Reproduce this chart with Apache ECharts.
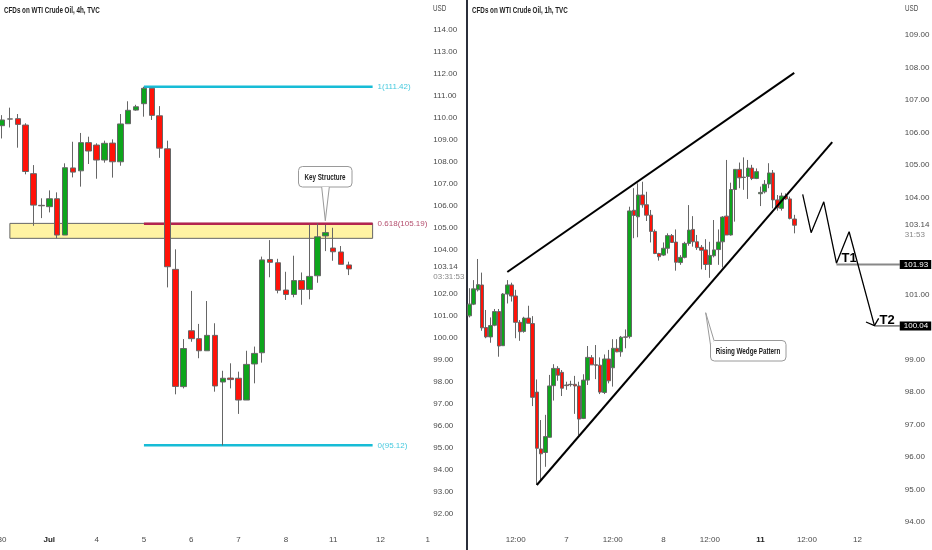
<!DOCTYPE html>
<html>
<head>
<meta charset="utf-8">
<title>CFDs on WTI Crude Oil</title>
<style>
html, body { margin: 0; padding: 0; background: #fff; }
#chart { width: 932px; height: 550px; }
</style>
<script src="https://cdn.jsdelivr.net/npm/echarts@6/dist/echarts.min.js"></script>
</head>
<body>
<div id="chart"></div>
<script>
// 4h panel, one value per candle
const leftOpen = [109.65, 109.96, 109.97, 109.68, 107.47, 106.03, 105.97, 106.33, 104.68, 107.73, 107.60, 108.88, 108.77, 108.09, 108.86, 108.01, 109.74, 110.36, 110.65, 111.35, 110.10, 108.60, 103.12, 97.79, 100.33, 99.97, 99.42, 100.12, 98.00, 98.18, 98.17, 97.18, 98.82, 99.33, 103.57, 103.42, 102.18, 101.98, 102.61, 102.21, 102.83, 104.64, 104.09, 103.91, 103.32];
const leftClose = [109.91, 109.95, 109.71, 107.57, 106.04, 106.01, 106.33, 104.68, 107.74, 107.54, 108.88, 108.50, 108.09, 108.85, 108.01, 109.73, 110.35, 110.51, 111.35, 110.12, 108.63, 103.24, 97.80, 99.52, 99.97, 99.42, 100.12, 97.82, 98.17, 98.11, 97.18, 98.80, 99.30, 103.55, 103.44, 102.17, 101.98, 102.61, 102.21, 102.80, 104.60, 104.79, 103.92, 103.35, 103.14];
const leftLow = [109.07, 109.57, 108.65, 107.44, 105.10, 105.45, 105.71, 104.53, 104.68, 107.30, 106.88, 107.91, 107.24, 107.97, 107.29, 107.83, 109.73, 110.33, 110.06, 109.91, 108.19, 102.30, 97.44, 97.71, 99.83, 99.08, 99.42, 97.56, 95.12, 97.71, 96.55, 97.18, 97.94, 98.88, 102.76, 102.03, 101.73, 101.85, 101.51, 101.76, 102.51, 103.95, 103.51, 103.35, 102.86];
const leftHigh = [110.13, 110.47, 110.18, 109.76, 107.86, 106.35, 106.71, 106.62, 107.94, 108.92, 109.32, 109.15, 108.85, 108.97, 109.03, 110.18, 110.76, 110.60, 111.42, 111.35, 110.54, 108.97, 104.03, 99.95, 102.14, 100.64, 101.68, 100.67, 98.51, 98.85, 98.47, 99.42, 99.61, 103.70, 104.45, 103.60, 103.01, 103.74, 102.98, 105.14, 105.21, 105.14, 105.01, 104.18, 103.47];
const leftDays = ['30', 'Jul', '4', '5', '6', '7', '8', '11', '12', '1'];
const leftCandleSlots = 55;

// 1h panel, one value per candle
const rightOpen = [100.35, 100.71, 101.15, 101.30, 99.99, 99.70, 100.06, 100.48, 99.43, 101.02, 101.30, 100.96, 100.15, 99.87, 100.28, 100.11, 98.00, 96.25, 96.14, 96.61, 98.20, 98.73, 98.61, 98.22, 98.24, 98.24, 98.19, 97.19, 98.37, 99.06, 98.84, 98.83, 97.99, 99.02, 98.75, 99.35, 99.24, 99.70, 99.71, 103.60, 103.40, 104.07, 103.77, 103.45, 102.95, 102.27, 102.22, 102.43, 102.82, 102.62, 101.99, 102.15, 102.58, 103.01, 102.63, 102.46, 102.38, 101.93, 102.20, 102.39, 102.63, 103.42, 102.84, 104.24, 104.86, 104.62, 104.64, 104.90, 104.58, 104.11, 104.17, 104.41, 104.75, 103.92, 103.66, 104.04, 103.95, 103.33];
const rightClose = [100.71, 101.18, 101.31, 99.98, 99.70, 100.05, 100.48, 99.42, 101.02, 101.30, 100.96, 100.15, 99.86, 100.28, 100.12, 97.84, 96.27, 96.10, 96.63, 98.19, 98.73, 98.52, 98.12, 98.20, 98.23, 98.19, 97.17, 98.37, 99.07, 98.84, 98.83, 98.00, 99.02, 98.35, 99.35, 99.24, 99.69, 99.69, 103.58, 103.44, 104.07, 103.77, 103.45, 102.95, 102.27, 102.17, 102.43, 102.82, 102.61, 102.00, 102.15, 102.58, 102.99, 102.63, 102.45, 102.37, 101.93, 102.21, 102.38, 102.62, 103.39, 102.84, 104.24, 104.86, 104.60, 104.61, 104.90, 104.58, 104.79, 104.15, 104.40, 104.75, 103.92, 103.68, 104.04, 103.95, 103.35, 103.14];
const rightLow = [100.30, 100.68, 101.10, 99.89, 99.66, 99.52, 100.03, 99.09, 99.42, 100.73, 100.79, 99.66, 99.58, 99.83, 100.12, 97.57, 95.14, 95.29, 95.70, 96.60, 97.74, 98.35, 97.88, 98.07, 98.17, 97.33, 96.68, 97.17, 98.22, 98.84, 98.40, 97.94, 97.94, 98.27, 98.17, 99.23, 99.09, 99.35, 99.65, 102.74, 102.77, 103.68, 103.27, 102.61, 102.25, 102.05, 102.19, 102.27, 102.60, 101.74, 101.92, 102.12, 102.51, 102.48, 102.38, 101.78, 101.76, 101.52, 102.15, 101.92, 101.84, 102.84, 102.82, 103.25, 104.28, 104.23, 103.95, 104.53, 104.56, 103.73, 104.12, 104.28, 103.66, 103.59, 103.59, 103.92, 103.32, 102.89];
const rightHigh = [101.20, 101.45, 102.10, 101.68, 100.53, 100.30, 100.56, 100.56, 101.05, 101.45, 101.37, 101.15, 100.22, 100.32, 100.66, 100.34, 98.39, 97.14, 97.30, 98.53, 98.86, 98.80, 98.68, 98.32, 98.35, 98.50, 98.32, 98.55, 99.42, 99.14, 99.45, 99.07, 99.16, 99.30, 99.63, 99.63, 99.73, 99.93, 103.71, 104.28, 104.43, 104.48, 104.17, 103.61, 103.01, 102.29, 102.61, 102.89, 102.87, 103.01, 102.22, 102.63, 103.76, 103.42, 102.84, 102.53, 102.71, 102.63, 103.30, 103.01, 103.42, 105.15, 104.45, 104.86, 105.07, 105.23, 105.15, 105.00, 104.89, 104.33, 104.53, 105.05, 104.84, 104.07, 104.14, 104.12, 104.02, 103.46];
const rightTickIndex = [11, 23, 34, 46, 57, 69, 80, 92];
const rightTickText = ['12:00', '7', '12:00', '8', '12:00', '11', '12:00', '12'];
const rightCandleSlots = 103;

// fib levels on the 4h panel
const fibLevels = [111.42, 105.19, 95.12];
const fibNames = ['1(111.42)', '0.618(105.19)', '0(95.12)'];
const fibColors = ['#17bcd6', '#b3244f', '#17bcd6'];
const fibTextColors = ['#45c9de', '#b5506f', '#45c9de'];

// drawings on the 1h panel: [candle index, price]
const wedgeUpper = [[9, 101.70], [77, 107.83]];
const wedgeLower = [[16, 95.14], [86, 105.70]];
const projection = [[79, 104.09], [81, 102.91], [84, 103.86], [87, 101.97], [90, 102.94], [96, 100.05]];
const arrowHead = [[94, 100.16], [96, 100.05], [97, 100.27]];
const targetStart = [87, 96];
const targetPrices = [101.93, 100.04];
const targetNames = ['T1', 'T2'];
const targetNamePoints = [[90, 102.12], [99, 100.22]];

const FONT = '"Liberation Sans", sans-serif';
const LABEL_SIZE = 8;
const GREEN = '#0da51c';
const RED = '#ff1208';
const TEXT = '#4a4a4a';

function toCandles(open, close, low, high) {
    return open.map(function (o, i) { return [o, close[i], low[i], high[i]]; });
}

function slots(n) {
    return Array.from({ length: n }, function (_, i) { return String(i); });
}

function priceLabel(hidden, lastPrice, countdown) {
    return function (value) {
        if (value === 103) return '{p|' + lastPrice + '}\n{c|' + countdown + '}';
        if (hidden.indexOf(value) >= 0) return '';
        return value.toFixed(2);
    };
}

function candleSeries(name, axis, data, width) {
    return {
        name: name,
        type: 'candlestick',
        xAxisIndex: axis,
        yAxisIndex: axis,
        data: data,
        barWidth: width,
        z: 3,
        itemStyle: { color: GREEN, color0: RED, borderColor: '#666', borderColor0: '#666', borderWidth: 1 }
    };
}

function drawnLine(axis, data, color, width, z) {
    return {
        type: 'line',
        xAxisIndex: axis,
        yAxisIndex: axis,
        data: data,
        symbol: 'none',
        silent: true,
        z: z,
        lineStyle: { color: color, width: width }
    };
}

// invisible point that only carries a text label
function labelPoint(point, label) {
    return {
        type: 'scatter', xAxisIndex: 1, yAxisIndex: 1, symbolSize: 0, silent: true, z: 6,
        itemStyle: { opacity: 1 },
        data: [point],
        label: Object.assign({ show: true, opacity: 1, fontFamily: FONT }, label)
    };
}

// rounded note box with a pointer: white wedge over the box edge, then its two sides
function callout(box, base, tip) {
    const edge = { stroke: '#9a9a9a', lineWidth: 1 };
    return [
        { type: 'rect', silent: true, shape: { x: box[0], y: box[1], width: box[2], height: box[3], r: 4 }, style: Object.assign({ fill: '#fff' }, edge) },
        { type: 'polygon', silent: true, shape: { points: [base[0], tip, base[1]] }, style: { fill: '#fff' } },
        { type: 'polyline', silent: true, shape: { points: [base[0], tip, base[1]] }, style: Object.assign({ fill: 'none' }, edge) }
    ];
}

// text squeezed sideways, the reference font is a narrow one
function flatText(x, y, text, bold, color, align) {
    return {
        type: 'text', x: x, y: y, scaleX: 0.66, silent: true,
        style: { text: text, fill: color, font: (bold ? 'bold ' : '') + '9.5px ' + FONT, align: align, verticalAlign: 'middle' }
    };
}

const axisBase = {
    axisLine: { show: false },
    axisTick: { show: false },
    splitLine: { show: false }
};

const tagRich = {
    p: { fontFamily: FONT, fontSize: LABEL_SIZE, color: TEXT, lineHeight: 10 },
    c: { fontFamily: FONT, fontSize: LABEL_SIZE, color: '#888', lineHeight: 10 }
};

const chart = echarts.init(document.getElementById('chart'));

const series = [
    // yellow key structure zone, behind the candles
    {
        type: 'line', xAxisIndex: 0, yAxisIndex: 0, data: [], silent: true, z: 1,
        markArea: {
            silent: true,
            itemStyle: { color: '#fff3a3', borderColor: '#666', borderWidth: 1 },
            data: [[{ coord: [1, 105.21] }, { coord: [47, 104.53] }]]
        }
    },
    candleSeries('WTI 4h', 0, toCandles(leftOpen, leftClose, leftLow, leftHigh), 6),
    candleSeries('WTI 1h', 1, toCandles(rightOpen, rightClose, rightLow, rightHigh), 4),
    drawnLine(1, wedgeUpper, '#000', 2, 4),
    drawnLine(1, wedgeLower, '#000', 2, 4),
    drawnLine(1, projection, '#000', 1.3, 4),
    drawnLine(1, arrowHead, '#000', 1.3, 4)
];

fibLevels.forEach(function (level, i) {
    const s = drawnLine(0, [[18, level], [47, level]], fibColors[i], 2.5, 2);
    s.endLabel = { show: true, formatter: fibNames[i], color: fibTextColors[i], fontFamily: FONT, fontSize: LABEL_SIZE, distance: 5 };
    series.push(s);
});

targetPrices.forEach(function (price, i) {
    series.push(drawnLine(1, [[targetStart[i], price], [102, price]], '#888', 1.8, 2));
    series.push(labelPoint([102, price], {
        position: 'right', distance: 0, formatter: price.toFixed(2), color: '#fff',
        backgroundColor: '#000', padding: [1, 3, 0, 4], fontSize: LABEL_SIZE
    }));
    series.push(labelPoint(targetNamePoints[i], {
        position: 'inside', formatter: targetNames[i], color: '#000', fontWeight: 'bold', fontSize: 13
    }));
});

const option = {
    animation: false,
    backgroundColor: '#fff',
    grid: [
        { left: -1.94, width: 433.7, top: 8, bottom: 36, outerBoundsMode: 'none' },
        { left: 467.2, width: 434.66, top: 2.48, bottom: 28, outerBoundsMode: 'none' }
    ],
    xAxis: [
        Object.assign({}, axisBase, {
            type: 'category', gridIndex: 0, data: slots(leftCandleSlots),
            axisLabel: {
                interval: 5, margin: 22, color: TEXT, fontFamily: FONT, fontSize: LABEL_SIZE,
                rich: { b: { fontFamily: FONT, fontSize: LABEL_SIZE, fontWeight: 'bold', color: '#222' } },
                formatter: function (value, index) {
                    const day = leftDays[index / 6];
                    return day === 'Jul' ? '{b|Jul}' : day;
                }
            }
        }),
        Object.assign({}, axisBase, {
            type: 'category', gridIndex: 1, data: slots(rightCandleSlots),
            axisLabel: {
                interval: 0, margin: 14, color: TEXT, fontFamily: FONT, fontSize: LABEL_SIZE,
                rich: { b: { fontFamily: FONT, fontSize: LABEL_SIZE, fontWeight: 'bold', color: '#222' } },
                formatter: function (value, index) {
                    const k = rightTickIndex.indexOf(index);
                    if (k < 0) return '';
                    return rightTickText[k] === '11' ? '{b|11}' : rightTickText[k];
                }
            }
        })
    ],
    yAxis: [
        Object.assign({}, axisBase, {
            type: 'value', gridIndex: 0, position: 'right', min: 92, max: 115, interval: 1,
            axisLabel: { margin: 1.5, color: TEXT, fontFamily: FONT, fontSize: LABEL_SIZE, rich: tagRich, formatter: priceLabel([115], '103.14', '03:31:53') }
        }),
        Object.assign({}, axisBase, {
            type: 'value', gridIndex: 1, position: 'right', min: 94, max: 110, interval: 1,
            axisLabel: { margin: 3, color: TEXT, fontFamily: FONT, fontSize: LABEL_SIZE, rich: tagRich, formatter: priceLabel([110, 102, 100], '103.14', '31:53') }
        })
    ],
    series: series,
    graphic: [
        { type: 'line', silent: true, shape: { x1: 467, y1: 0, x2: 467, y2: 550 }, style: { stroke: '#2b2f3a', lineWidth: 2 } },
        flatText(4, 10, 'CFDs on WTI Crude Oil, 4h, TVC', true, '#222', 'left'),
        flatText(433, 8, 'USD', false, TEXT, 'left'),
        flatText(472, 10, 'CFDs on WTI Crude Oil, 1h, TVC', true, '#222', 'left'),
        flatText(905, 8, 'USD', false, TEXT, 'left')
    ].concat(
        callout([298.5, 166.5, 53.5, 20.5], [[321.7, 187], [329.3, 187]], [325.3, 220.7]),
        [flatText(325, 177, 'Key Structure', true, '#222', 'center')],
        callout([710.5, 340.5, 75.5, 20.5], [[710.5, 345], [714, 340.5]], [705.7, 312.7]),
        [flatText(748, 351, 'Rising Wedge Pattern', true, '#222', 'center')]
    )
};

chart.setOption(option);
</script>
</body>
</html>
